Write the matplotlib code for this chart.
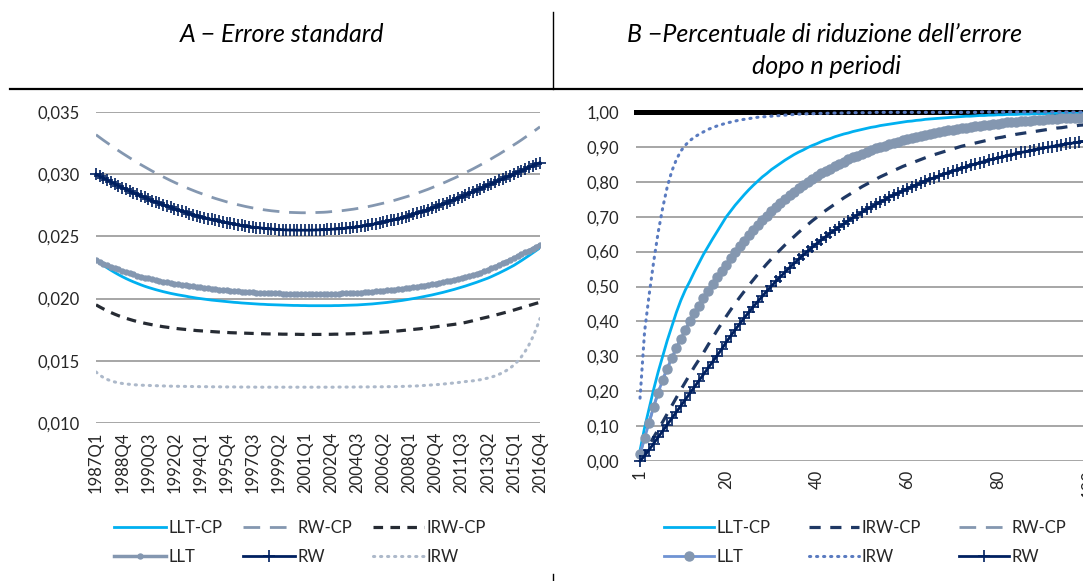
import matplotlib
matplotlib.use("Agg")
import matplotlib.pyplot as plt
from matplotlib.lines import Line2D

plt.rcParams['font.family'] = ['Lato', 'DejaVu Sans']

# ---- Panel A: standard error, quarterly 1987Q1-2016Q4 ----
quarters = [f"{y}Q{q}" for y in range(1987, 2017) for q in range(1, 5)]

llt_cp_a = [
    .02310, .02288, .02267, .02247, .02228, .02210, .02193, .02177, .02162, .02148,
    .02135, .02123, .02111, .02100, .02090, .02081, .02072, .02064, .02056, .02049,
    .02042, .02036, .02030, .02025, .02020, .02014, .02009, .02004, .02000, .01996,
    .01992, .01988, .01985, .01982, .01979, .01976, .01973, .01970, .01968, .01965,
    .01963, .01961, .01959, .01957, .01955, .01954, .01952, .01951, .01950, .01949,
    .01948, .01947, .01946, .01945, .01945, .01944, .01944, .01943, .01943, .01943,
    .01943, .01943, .01943, .01943, .01944, .01944, .01945, .01946, .01947, .01948,
    .01949, .01951, .01953, .01955, .01957, .01960, .01963, .01966, .01969, .01973,
    .01977, .01981, .01985, .01990, .01995, .02000, .02005, .02011, .02017, .02023,
    .02029, .02036, .02043, .02050, .02058, .02066, .02074, .02083, .02092, .02101,
    .02111, .02121, .02131, .02142, .02153, .02164, .02177, .02191, .02205, .02220,
    .02235, .02251, .02267, .02286, .02305, .02325, .02345, .02366, .02387, .02408,
]
rw_cp_a = [
    .03317, .03295, .03273, .03252, .03231, .03210, .03190, .03170, .03151, .03132,
    .03113, .03095, .03077, .03060, .03043, .03026, .03010, .02994, .02979, .02964,
    .02949, .02935, .02921, .02908, .02895, .02882, .02870, .02858, .02847, .02836,
    .02825, .02815, .02805, .02796, .02787, .02778, .02770, .02762, .02755, .02748,
    .02741, .02735, .02729, .02724, .02719, .02714, .02710, .02706, .02703, .02700,
    .02697, .02695, .02693, .02692, .02691, .02690, .02690, .02690, .02691, .02692,
    .02693, .02694, .02696, .02699, .02701, .02704, .02707, .02711, .02715, .02719,
    .02724, .02729, .02735, .02740, .02746, .02753, .02760, .02767, .02774, .02782,
    .02790, .02799, .02808, .02817, .02826, .02836, .02847, .02857, .02868, .02879,
    .02891, .02903, .02916, .02928, .02941, .02955, .02968, .02982, .02997, .03012,
    .03027, .03042, .03058, .03074, .03091, .03108, .03125, .03143, .03160, .03179,
    .03197, .03216, .03236, .03255, .03275, .03296, .03316, .03337, .03359, .03381,
]
irw_cp_a = [
    .01950, .01933, .01917, .01902, .01888, .01875, .01863, .01852, .01842, .01833,
    .01824, .01816, .01809, .01802, .01796, .01790, .01784, .01779, .01774, .01770,
    .01766, .01762, .01758, .01755, .01752, .01749, .01746, .01743, .01741, .01739,
    .01737, .01735, .01733, .01731, .01729, .01728, .01726, .01725, .01724, .01723,
    .01722, .01721, .01720, .01719, .01718, .01717, .01716, .01716, .01715, .01715,
    .01714, .01714, .01713, .01713, .01713, .01712, .01712, .01712, .01712, .01712,
    .01712, .01712, .01713, .01713, .01714, .01714, .01715, .01716, .01717, .01718,
    .01719, .01720, .01722, .01723, .01725, .01727, .01729, .01731, .01733, .01735,
    .01738, .01740, .01743, .01746, .01749, .01752, .01755, .01758, .01762, .01765,
    .01769, .01773, .01777, .01781, .01785, .01789, .01793, .01797, .01802, .01808,
    .01815, .01822, .01830, .01838, .01845, .01852, .01859, .01867, .01875, .01883,
    .01891, .01899, .01908, .01917, .01926, .01935, .01944, .01953, .01962, .01970,
]
llt_a = [
    .02310, .02296, .02282, .02269, .02257, .02245, .02234, .02223, .02213, .02203,
    .02194, .02185, .02177, .02169, .02162, .02155, .02148, .02142, .02136, .02130,
    .02125, .02120, .02115, .02110, .02106, .02102, .02098, .02094, .02091, .02087,
    .02083, .02080, .02076, .02073, .02070, .02067, .02064, .02062, .02059, .02057,
    .02055, .02053, .02051, .02049, .02047, .02046, .02044, .02043, .02042, .02041,
    .02040, .02039, .02038, .02037, .02037, .02036, .02036, .02036, .02036, .02036,
    .02036, .02037, .02037, .02038, .02039, .02040, .02041, .02042, .02044, .02045,
    .02047, .02049, .02051, .02053, .02055, .02058, .02060, .02063, .02066, .02069,
    .02072, .02075, .02079, .02083, .02087, .02091, .02095, .02100, .02105, .02110,
    .02115, .02120, .02126, .02132, .02138, .02144, .02151, .02158, .02165, .02172,
    .02180, .02189, .02198, .02208, .02219, .02230, .02243, .02256, .02270, .02284,
    .02298, .02312, .02326, .02341, .02356, .02371, .02386, .02401, .02417, .02433,
]
rw_a = [
    .03001, .02984, .02969, .02953, .02938, .02923, .02908, .02893, .02879, .02865,
    .02852, .02838, .02826, .02813, .02800, .02788, .02777, .02765, .02754, .02743,
    .02733, .02722, .02712, .02703, .02693, .02684, .02675, .02667, .02659, .02651,
    .02643, .02636, .02629, .02622, .02616, .02610, .02604, .02598, .02593, .02588,
    .02584, .02579, .02575, .02571, .02568, .02565, .02562, .02560, .02557, .02555,
    .02554, .02552, .02551, .02551, .02550, .02550, .02550, .02550, .02551, .02552,
    .02553, .02554, .02556, .02557, .02559, .02561, .02564, .02567, .02570, .02573,
    .02577, .02581, .02586, .02591, .02596, .02602, .02608, .02614, .02621, .02628,
    .02635, .02643, .02651, .02659, .02668, .02677, .02686, .02696, .02706, .02716,
    .02727, .02738, .02749, .02760, .02772, .02784, .02796, .02808, .02820, .02833,
    .02846, .02859, .02872, .02885, .02898, .02911, .02924, .02937, .02950, .02963,
    .02976, .02989, .03002, .03015, .03028, .03041, .03054, .03067, .03080, .03093,
]
irw_a = [
    .01410, .01385, .01365, .01350, .01339, .01330, .01323, .01318, .01314, .01311,
    .01308, .01306, .01304, .01303, .01302, .01301, .01300, .01299, .01298, .01297,
    .01296, .01296, .01295, .01295, .01294, .01294, .01293, .01293, .01292, .01292,
    .01292, .01291, .01291, .01291, .01290, .01290, .01290, .01290, .01289, .01289,
    .01289, .01289, .01289, .01288, .01288, .01288, .01288, .01288, .01288, .01288,
    .01288, .01288, .01288, .01288, .01288, .01288, .01288, .01288, .01288, .01288,
    .01288, .01288, .01288, .01288, .01288, .01289, .01289, .01289, .01289, .01289,
    .01290, .01290, .01290, .01290, .01291, .01291, .01291, .01291, .01292, .01292,
    .01292, .01293, .01294, .01295, .01296, .01297, .01298, .01300, .01302, .01304,
    .01306, .01308, .01310, .01313, .01316, .01319, .01322, .01325, .01329, .01333,
    .01336, .01339, .01343, .01348, .01354, .01361, .01369, .01379, .01391, .01405,
    .01422, .01442, .01466, .01496, .01532, .01575, .01626, .01687, .01758, .01840,
]
ticks_a = [0.010, 0.015, 0.020, 0.025, 0.030, 0.035]
tick_labels_a = ['0,010', '0,015', '0,020', '0,025', '0,030', '0,035']

# ---- Panel B: share of error reduction after n periods ----
periods = list(range(1, 101))

llt_cp_b = [
    .030, .095, .150, .205, .255, .300, .345, .385, .425, .460,
    .490, .515, .542, .567, .592, .614, .636, .657, .678, .699,
    .716, .733, .748, .763, .777, .790, .802, .814, .824, .835,
    .844, .853, .862, .870, .878, .885, .891, .898, .904, .909,
    .915, .920, .924, .929, .933, .937, .940, .944, .947, .950,
    .953, .956, .958, .961, .963, .965, .967, .969, .971, .973,
    .974, .976, .977, .979, .980, .981, .982, .983, .984, .985,
    .986, .987, .988, .988, .989, .990, .990, .991, .991, .992,
    .992, .993, .993, .993, .994, .994, .994, .995, .995, .995,
    .995, .996, .996, .996, .996, .997, .997, .997, .997, .997,
]
irw_cp_b = [
    .005, .025, .046, .068, .090, .112, .135, .158, .181, .204,
    .226, .248, .270, .290, .310, .332, .353, .374, .394, .414,
    .433, .451, .469, .486, .503, .519, .535, .550, .565, .579,
    .593, .606, .619, .631, .643, .655, .666, .677, .688, .698,
    .708, .718, .727, .736, .745, .754, .762, .770, .778, .786,
    .793, .800, .807, .814, .820, .826, .832, .838, .844, .849,
    .854, .859, .864, .869, .874, .878, .882, .886, .890, .894,
    .898, .902, .905, .908, .911, .914, .917, .920, .923, .926,
    .928, .931, .933, .936, .938, .940, .942, .944, .946, .948,
    .950, .952, .954, .955, .957, .959, .960, .962, .963, .965,
]
llt_b = [
    .020, .065, .110, .155, .196, .232, .265, .295, .323, .350,
    .376, .400, .423, .445, .466, .487, .507, .526, .545, .563,
    .581, .598, .615, .631, .647, .662, .676, .690, .703, .716,
    .728, .740, .751, .762, .772, .782, .791, .800, .808, .816,
    .824, .831, .838, .845, .852, .858, .864, .870, .875, .880,
    .886, .891, .896, .900, .904, .908, .912, .915, .919, .922,
    .925, .928, .931, .934, .937, .940, .942, .945, .947, .949,
    .951, .953, .955, .957, .959, .961, .962, .964, .965, .967,
    .968, .970, .971, .972, .973, .974, .975, .976, .977, .978,
    .979, .980, .981, .982, .982, .983, .984, .984, .985, .986,
]
rw_cp_b = llt_b  # coincides with LLT in the source, hidden under its markers
irw_b = [
    .180, .370, .475, .570, .655, .725, .785, .830, .863, .888,
    .905, .918, .928, .936, .943, .950, .955, .960, .964, .968,
    .971, .974, .977, .979, .981, .983, .985, .986, .987, .988,
    .989, .990, .991, .992, .993, .994, .994, .995, .995, .996,
    .996, .996, .997, .997, .997, .997, .998, .998, .998, .998,
    .998, .998, .999, .999, .999, .999, .999, .999, .999, .999,
    .999, .999, .999, .999, .999, .999, .999, .999, .999, .999,
    .999, .999, .999, .999, .999, 1.00, 1.00, 1.00, 1.00, 1.00,
    1.00, 1.00, 1.00, 1.00, 1.00, 1.00, 1.00, 1.00, 1.00, 1.00,
    1.00, 1.00, 1.00, 1.00, 1.00, 1.00, 1.00, 1.00, 1.00, 1.00,
]
rw_b = [
    .000, .015, .032, .050, .068, .086, .104, .122, .140, .158,
    .176, .194, .212, .230, .248, .266, .284, .302, .320, .340,
    .358, .376, .393, .410, .426, .442, .457, .472, .487, .501,
    .515, .528, .541, .554, .566, .578, .590, .601, .612, .623,
    .633, .643, .653, .662, .671, .680, .689, .697, .705, .713,
    .721, .728, .735, .742, .749, .756, .762, .768, .774, .780,
    .786, .791, .797, .802, .807, .812, .817, .822, .826, .831,
    .835, .839, .843, .847, .851, .855, .858, .862, .865, .868,
    .872, .875, .878, .881, .884, .886, .889, .892, .894, .897,
    .899, .901, .904, .906, .908, .910, .912, .914, .916, .918,
]
ticks_b = [i / 10 for i in range(11)]
tick_labels_b = ['0,00', '0,10', '0,20', '0,30', '0,40', '0,50',
                 '0,60', '0,70', '0,80', '0,90', '1,00']
xticks_b = [1, 20, 40, 60, 80, 100]

W, H = 1083, 581
TXT = '#262626'
GRID = '#A6A6A6'
TICK_FS = 12
LEG_FS = 12
TITLE_FS = 18


def px_box(x0, y0, x1, y1):
    # pixel rectangle (top-left origin) -> figure fraction
    return [x0 / W, 1 - y1 / H, (x1 - x0) / W, (y1 - y0) / H]


def style_axis(ax):
    for s in ax.spines.values():
        s.set_visible(False)
    ax.yaxis.grid(True, color=GRID, lw=1.4)
    ax.set_axisbelow(True)
    ax.tick_params(length=0, labelsize=TICK_FS, labelcolor=TXT)
    ax.tick_params(axis='y', pad=12)
    ax.tick_params(axis='x', pad=6)


fig = plt.figure(figsize=(W / 100, H / 100), dpi=100)

# document framing: header rule and column divider
fig.add_artist(Line2D([10 / W, 1], [1 - 89 / H] * 2, color='black', lw=1.6))
fig.add_artist(Line2D([553 / W] * 2, [1 - 12 / H, 1 - 89 / H], color='black', lw=1.0))
fig.add_artist(Line2D([553 / W] * 2, [0, 7 / H], color='black', lw=1.0))

fig.text(282 / W, 1 - 35 / H, 'A \u2212 Errore standard', style='italic',
         fontsize=TITLE_FS, ha='center', va='center', color='black')
fig.text(825 / W, 1 - 35 / H, 'B \u2212Percentuale di riduzione dell\u2019errore',
         style='italic', fontsize=TITLE_FS, ha='center', va='center', color='black')
fig.text(826 / W, 1 - 67 / H, 'dopo n periodi', style='italic',
         fontsize=TITLE_FS, ha='center', va='center', color='black')

# ---- panel A ----
ax_a = fig.add_axes(px_box(96, 112, 540, 423))
xa = range(len(quarters))
h_llt_cp, = ax_a.plot(xa, llt_cp_a, color='#00B0F0', lw=2, label='LLT-CP')
h_rw_cp, = ax_a.plot(xa, rw_cp_a, color='#8497B0', lw=2, dashes=(6, 3.5), label='RW-CP')
h_irw_cp, = ax_a.plot(xa, irw_cp_a, color='#262B33', lw=2.3, dashes=(3, 2.3), label='IRW-CP')
h_llt, = ax_a.plot(xa, llt_a, color='#8497B0', lw=2.5, marker='o', ms=3.6,
                   mec='#8497B0', label='LLT')
h_rw, = ax_a.plot(xa, rw_a, color='#002060', lw=2, marker='+', ms=8, mew=1.2,
                  label='RW', clip_on=False)
h_irw, = ax_a.plot(xa, irw_a, color='#ADB9CA', lw=2.2, ls=(0, (0.4, 1.9)),
                   dash_capstyle='round', label='IRW')
ax_a.set_xlim(0, len(quarters) - 1)
ax_a.set_ylim(0.010, 0.035)
ax_a.set_yticks(ticks_a, tick_labels_a)
ax_a.set_xticks(list(xa)[::7], quarters[::7], rotation=90)
style_axis(ax_a)

fig.legend(handles=[h_llt_cp, h_llt, h_rw_cp, h_rw, h_irw_cp, h_irw], ncol=3,
           loc='upper left', bbox_to_anchor=(99 / W, 1 - 505 / H), frameon=False,
           fontsize=LEG_FS, handlelength=3.1, handletextpad=0.15, columnspacing=1.25,
           labelspacing=0.75, borderpad=0.4, labelcolor=TXT)

# ---- panel B ----
x0_b, ppu = 635.5, 4.53
ax_b = fig.add_axes(px_box(x0_b, 112, x0_b + 103 * ppu, 461))
ax_b.axhline(1.0, color='black', lw=3.6, zorder=1.9, clip_on=False)
g_llt_cp, = ax_b.plot(periods, llt_cp_b, color='#00B0F0', lw=2, label='LLT-CP')
g_irw_cp, = ax_b.plot(periods, irw_cp_b, color='#1F3864', lw=2.3, dashes=(3.5, 3),
                      label='IRW-CP')
g_rw_cp, = ax_b.plot(periods, rw_cp_b, color='#8497B0', lw=2, dashes=(6, 3.5),
                     label='RW-CP')
g_llt, = ax_b.plot(periods, llt_b, color='#6F93D3', lw=2, marker='o', ms=6.5,
                   mfc='#8497B0', mec='#8497B0', label='LLT', clip_on=False)
g_irw, = ax_b.plot(periods, irw_b, color='#5A7BC0', lw=2.2, ls=(0, (0.4, 1.9)),
                   dash_capstyle='round', label='IRW', clip_on=False)
g_rw, = ax_b.plot(periods, rw_b, color='#002060', lw=2, marker='+', ms=8.5, mew=1.2,
                  label='RW', clip_on=False)
ax_b.set_xlim(0, 103)
ax_b.set_ylim(0, 1.0)
ax_b.set_yticks(ticks_b, tick_labels_b)
ax_b.set_xticks(xticks_b, [str(t) for t in xticks_b], rotation=90)
style_axis(ax_b)

fig.legend(handles=[g_llt_cp, g_llt, g_irw_cp, g_irw, g_rw_cp, g_rw], ncol=3,
           loc='upper left', bbox_to_anchor=(649 / W, 1 - 505 / H), frameon=False,
           fontsize=LEG_FS, handlelength=3.0, handletextpad=0.15, columnspacing=2.3,
           labelspacing=0.75, borderpad=0.4, labelcolor=TXT)

fig.savefig('out.png', dpi=100)
